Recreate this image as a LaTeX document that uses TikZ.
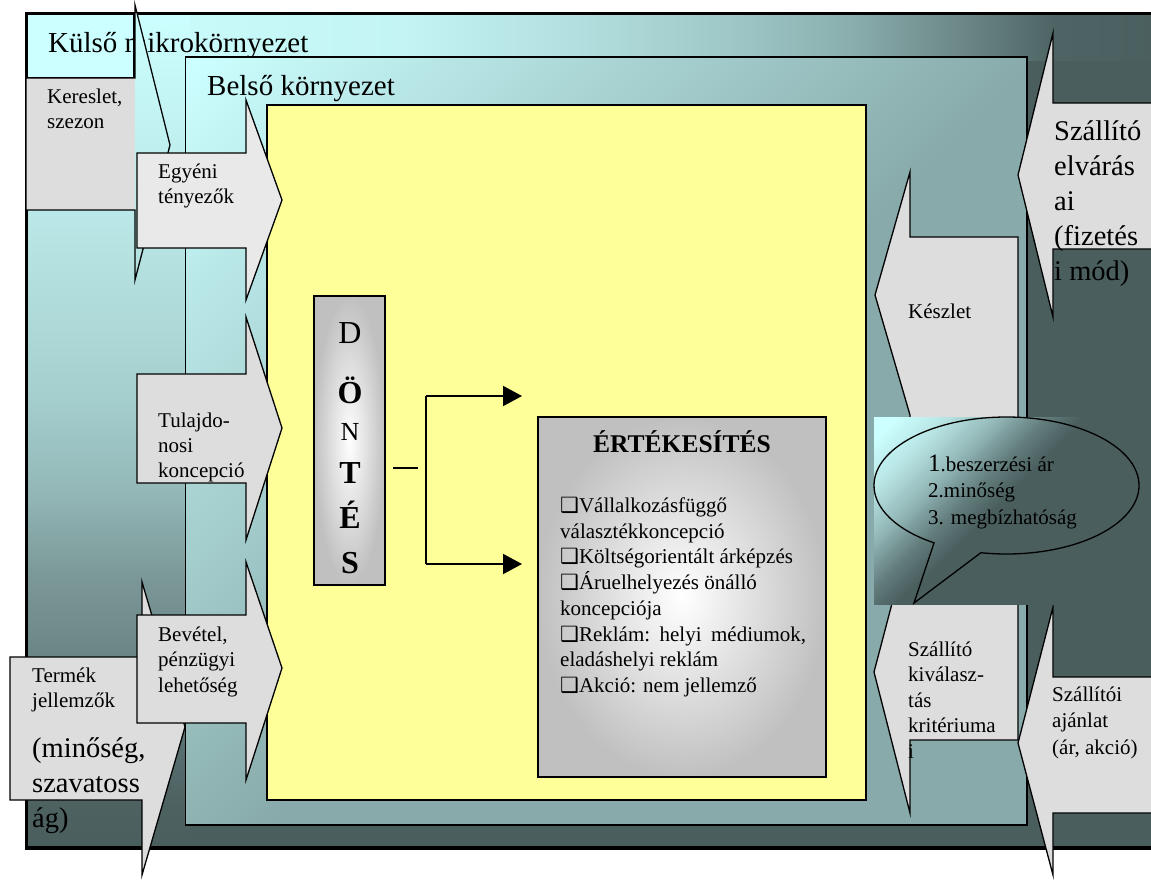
\documentclass[tikz,border=0pt]{standalone}
\usepackage{fontspec}
\setmainfont{Liberation Serif}
\newfontfamily\symfont{DejaVu Sans}
\usetikzlibrary{arrows.meta,shapes.callouts}

% colours
\definecolor{olight}{HTML}{CCFFFF}
\definecolor{odark}{HTML}{4A5E5E}
\definecolor{idark}{HTML}{88AAAA}
\definecolor{paper}{HTML}{FFFF99}
\definecolor{tabgrey}{HTML}{DDDDDD}
\definecolor{tablight}{HTML}{E9E9E9}
\definecolor{boxedge}{HTML}{C0C0C0}
\definecolor{t1}{HTML}{C4F4F4}
\definecolor{t2}{HTML}{B0DCDC}
\definecolor{t3}{HTML}{9CC4C4}
\definecolor{t4}{HTML}{8AAEAE}
\definecolor{t5}{HTML}{6E8A8A}
\definecolor{t6}{HTML}{4E6464}
\definecolor{l1}{HTML}{B8E4E4}
\definecolor{l2}{HTML}{A6D0D0}
\definecolor{l3}{HTML}{94B8B8}
\definecolor{l4}{HTML}{7A9696}
\definecolor{l5}{HTML}{627C7C}
\definecolor{l6}{HTML}{4E6262}

% fades of the outer frame: along the top band and down the left band
\pgfdeclarehorizontalshading{topfade}{100bp}{color(0bp)=(olight); color(25bp)=(olight); color(41.5bp)=(t1); color(50bp)=(t2); color(56.5bp)=(t3); color(61bp)=(t4); color(65.5bp)=(t5); color(70bp)=(t6); color(75bp)=(odark); color(100bp)=(odark)}
\pgfdeclareverticalshading{leftfade}{100bp}{color(0bp)=(odark); color(25bp)=(odark); color(28bp)=(l6); color(34bp)=(l5); color(41bp)=(l4); color(46.5bp)=(l3); color(52.5bp)=(l2); color(61.5bp)=(l1); color(75bp)=(olight); color(100bp)=(olight)}
% diagonal fades, light in the upper left corner
\pgfdeclareverticalshading{innerfade}{100bp}{color(0bp)=(idark); color(48bp)=(idark); color(85bp)=(olight); color(100bp)=(olight)}
\pgfdeclareverticalshading{bubblefade}{100bp}{color(0bp)=(odark); color(52bp)=(odark); color(58bp)=(l5); color(66bp)=(l3); color(74bp)=(l1); color(82bp)=(olight); color(100bp)=(olight)}

% left aligned block of lines with a fixed line distance
\newcommand\txtlines[2]{\vtop{\baselineskip=#1\lineskiplimit=-100pt\halign{##\hfil\cr#2\crcr}}}
\newcommand\fs[1]{\fontsize{#1}{#1}\selectfont}
\newcommand\bx{{\symfont\fs{21}❑}}

\begin{document}
\begin{tikzpicture}[x=1pt,y=-1pt,
  tab/.style={draw=black, line width=1.3pt, line join=miter, fill=tabgrey},
  label/.style={anchor=base west, inner sep=0pt, font=\fs{21}},
  biglabel/.style={anchor=base west, inner sep=0pt, font=\fs{28.5}},
  letter/.style={anchor=base, inner sep=0pt},
  flow/.style={line width=2pt, -{Triangle[length=19pt,width=20pt]}}]

\useasboundingbox (0,0) rectangle (1151,881);

% outer frame: external micro environment
\fill[odark] (26.5,13.5) rectangle (1170,848);
\shade[shading=topfade] (26.5,13.5) rectangle (1170,60);
\shade[shading=leftfade] (26.5,13.5) rectangle (190,848);
\draw[line width=3.3pt] (26.5,13.5) rectangle (1170,848);
\fill[olight] (28,15) rectangle (134,78);
\draw[line width=1.3pt] (134,15) -- (134,78) -- (28,78);
\node[anchor=base west, inner sep=0pt, font=\fs{29}] (kulso) at (48,52) {Külső mikrokörnyezet};

% demand arrow: grey body, head showing the frame colour
\fill[tabgrey] (26,78) rectangle (135,210);
\begin{scope}
  \clip (135,5) -- (170,145) -- (135,280) -- cycle;
  \shade[shading=leftfade] (26.5,13.5) rectangle (190,848);
\end{scope}
\draw[tab, fill=none] (26,78) -- (135,78) -- (135,5) -- (170,145) -- (135,280) -- (135,210) -- (26,210) -- cycle;
\node[label] (kereslet) at (47,103) {\txtlines{25pt}{Kereslet,\cr szezon}};

% internal environment
\shade[shading=innerfade, shading angle=45] (185.5,57) rectangle (1027,825);
\draw[line width=1.3pt] (185.5,57) rectangle (1027,825);
\node[anchor=base west, inner sep=0pt, font=\fs{29}] (belso) at (207,95) {Belső környezet};

% decision area
\draw[line width=1.5pt, fill=paper] (267,105) rectangle (866,800);

% left arrows
\draw[tab, fill=tablight] (137,153) -- (246,153) -- (246,100) -- (282,200) -- (246,300) -- (246,248) -- (137,248) -- cycle;
\node[label] (egyeni) at (158,178) {\txtlines{25pt}{Egyéni\cr tényezők}};

\draw[tab] (137,374) -- (246,374) -- (246,317) -- (282,428) -- (246,540) -- (246,483) -- (137,483) -- cycle;
\node[label] (tulaj) at (158,427) {\txtlines{25pt}{Tulajdo-\cr nosi\cr koncepció}};

\draw[tab] (10,657) -- (142,657) -- (142,582) -- (185,727) -- (142,875) -- (142,800) -- (10,800) -- cycle;
\node[label] (termek) at (32,682) {\txtlines{25pt}{Termék\cr jellemzők}};
\node[biglabel] (termek2) at (32,757) {\txtlines{35pt}{(minőség,\cr szavatoss\cr ág)}};

\draw[tab] (137,615) -- (246,615) -- (246,562) -- (282,668) -- (246,780) -- (246,723) -- (137,723) -- cycle;
\node[label] (bevetel) at (158,641) {\txtlines{25.5pt}{Bevétel,\cr pénzügyi\cr lehetőség}};

% decision column
\node[draw, line width=1.5pt, minimum width=71pt, minimum height=289pt, inner sep=0pt,
      inner color=white, outer color=boxedge] (dontes) at (349.5,440.5) {};
\node[letter, font=\fs{32}] (d1) at (350,343) {D};
\node[letter, font=\fs{32}\bfseries] (d2) at (350,403) {Ö};
\node[letter, font=\fs{26}] (d3) at (350,440) {N};
\node[letter, font=\fs{32}\bfseries] (d4) at (350,483) {T};
\node[letter, font=\fs{32}\bfseries] (d5) at (350,528) {É};
\node[letter, font=\fs{32}\bfseries] (d6) at (350,573) {S};

% sales box
\node[draw, line width=1.5pt, minimum width=288pt, minimum height=360pt, inner sep=0pt,
      inner color=white, outer color=boxedge] (ert) at (682,597) {};
\node[letter, font=\fs{25.5}\bfseries] (erttitle) at (682,452) {ÉRTÉKESÍTÉS};
\node[label] (ertlist) at (560,512.5) {\txtlines{25.7pt}{%
  \bx Vállalkozásfüggő\cr
  választékkoncepció\cr
  \bx Költségorientált árképzés\cr
  \bx Áruelhelyezés önálló\cr
  koncepciója\cr
  \hbox to 246pt{\bx Reklám:\hfill helyi\hfill médiumok,}\cr
  eladáshelyi reklám\cr
  \bx Akció: nem jellemző}};

% decision branches
\coordinate (stubA) at (393,468);
\coordinate (stubB) at (418,468);
\coordinate (forkTop) at (426,396);
\coordinate (forkBot) at (426,564);
\coordinate (tipTop) at (522,396);
\coordinate (tipBot) at (522,564);
\draw[line width=2pt] (stubA) -- (stubB);
\draw[line width=2pt] (forkTop) -- (forkBot);
\draw[flow] (forkTop) -- (tipTop);
\draw[flow] (forkBot) -- (tipBot);

% right arrows
\draw[tab] (1170,103) -- (1053,103) -- (1053,33) -- (1018,175) -- (1053,317) -- (1053,249) -- (1170,249) -- cycle;
\node[biglabel] (elvaras) at (1054,140) {\txtlines{35pt}{Szállító\cr elvárás\cr ai\cr (fizetés\cr i mód)}};

\draw[tab] (1018,237) -- (910,237) -- (910,172) -- (875,295) -- (910,415) -- (910,420) -- (1018,420) -- cycle;
\node[label] (keszlet) at (908,318) {Készlet};

\draw[tab] (1018,600) -- (910,600) -- (910,535) -- (874,672) -- (910,813) -- (910,740) -- (1018,740) -- cycle;
\node[label] (kivalaszt) at (908,656) {\txtlines{25.5pt}{Szállító\cr kiválasz-\cr tás\cr kritériuma\cr i}};

\draw[tab] (1170,677) -- (1053,677) -- (1053,607) -- (1018,743) -- (1053,875) -- (1053,813) -- (1170,813) -- cycle;
\node[label] (ajanlat) at (1052,701) {\txtlines{26.5pt}{Szállítói\cr ajánlat\cr (ár, akció)}};

% purchasing criteria bubble
\shade[shading=bubblefade, shading angle=45] (874,417) rectangle (1130,604);
\node[ellipse callout, draw, line width=1.3pt, minimum width=265pt, minimum height=137pt, inner sep=0pt,
      callout absolute pointer={(914,603)}, callout pointer arc=22,
      shading=bubblefade, shading angle=45] (bubble) at (1006.5,485.5) {};
\node[label] (criteria) at (928,471) {\txtlines{26.5pt}{{\fs{25}1}.beszerzési ár\cr 2.minőség\cr 3. megbízhatóság}};

\end{tikzpicture}
\end{document}
